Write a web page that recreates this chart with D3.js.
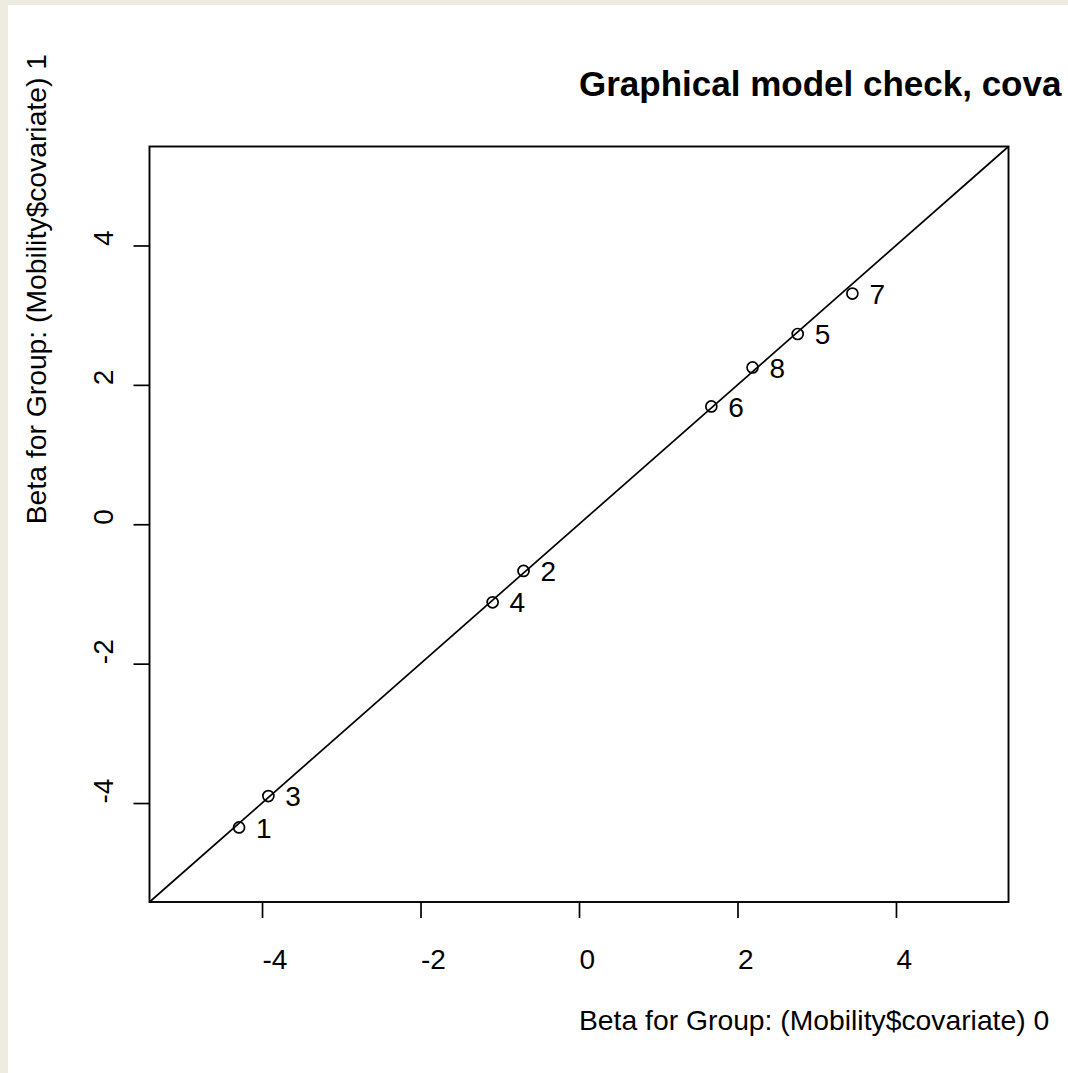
<!DOCTYPE html>
<html>
<head>
<meta charset="utf-8">
<script src="https://cdn.jsdelivr.net/npm/d3@7"></script>
<style>
  html, body { margin: 0; padding: 0; background: #eeebe1; }
  svg { display: block; }
  text { font-family: "Liberation Sans", Arial, sans-serif; fill: #000; }
</style>
</head>
<body>
<script>
// Group ids and their beta estimates under the two covariate levels
const groupIds = ["1", "2", "3", "4", "5", "6", "7", "8"];
const betaGroup0 = [-4.29, -0.70, -3.92, -1.09, 2.76, 1.67, 3.45, 2.19];
const betaGroup1 = [-4.35, -0.67, -3.90, -1.12, 2.73, 1.69, 3.31, 2.25];
const tickValues = [-4, -2, 0, 2, 4];
const tickLabels = ["-4", "-2", "0", "2", "4"];

const titleText = "Graphical model check, cova";
const xLabel = "Beta for Group: (Mobility$covariate) 0";
const yLabel = "Beta for Group: (Mobility$covariate) 1";

const W = 1068, H = 1073;
const box = { left: 149.5, right: 1008.5, top: 146.5, bottom: 902 };
const lim = [-5.42, 5.42];
const fontSize = 28;
const labelSize = 28.3;

const svg = d3.select("body").append("svg")
  .attr("width", W).attr("height", H);

// White device region, leaving the page colour visible at top/left
svg.append("rect").attr("x", 8).attr("y", 5)
  .attr("width", W - 8).attr("height", H - 5).attr("fill", "#fff");

const x = d3.scaleLinear().domain(lim).range([box.left, box.right]);
const y = d3.scaleLinear().domain(lim).range([box.bottom, box.top]);

const data = groupIds.map((id, i) => ({ id, b0: betaGroup0[i], b1: betaGroup1[i] }));
const fmt = d => tickLabels[tickValues.indexOf(d)];

// Identity line y = x
svg.append("line")
  .attr("x1", x(lim[0])).attr("y1", y(lim[0]))
  .attr("x2", x(lim[1])).attr("y2", y(lim[1]))
  .attr("stroke", "#000").attr("stroke-width", 1.7);

// Bottom axis
const xAxis = svg.append("g").attr("transform", `translate(0,${box.bottom})`)
  .call(d3.axisBottom(x).tickValues(tickValues).tickSize(16).tickFormat(fmt));
xAxis.select(".domain").remove();
xAxis.selectAll(".tick line").attr("stroke", "#000").attr("stroke-width", 1.7);
xAxis.selectAll(".tick text")
  .attr("font-size", fontSize).attr("font-family", "Liberation Sans, Arial, sans-serif")
  .attr("text-anchor", "start").attr("y", 57).attr("dy", "0.35em");

// Left axis, labels rotated to read upwards
const yAxis = svg.append("g").attr("transform", `translate(${box.left},0)`)
  .call(d3.axisLeft(y).tickValues(tickValues).tickSize(16).tickFormat(fmt));
yAxis.select(".domain").remove();
yAxis.selectAll(".tick line").attr("stroke", "#000").attr("stroke-width", 1.7);
yAxis.selectAll(".tick text")
  .attr("font-size", fontSize).attr("font-family", "Liberation Sans, Arial, sans-serif")
  .attr("text-anchor", "start").attr("x", null).attr("dy", null)
  .attr("transform", "translate(-46,0) rotate(-90) translate(0,9)");

// Plot frame
svg.append("rect")
  .attr("x", box.left).attr("y", box.top)
  .attr("width", box.right - box.left).attr("height", box.bottom - box.top)
  .attr("fill", "none").attr("stroke", "#000").attr("stroke-width", 1.9);

// Points and their group labels
svg.append("g").selectAll("circle").data(data).join("circle")
  .attr("cx", d => x(d.b0)).attr("cy", d => y(d.b1)).attr("r", 5.5)
  .attr("fill", "none").attr("stroke", "#000").attr("stroke-width", 1.7);

svg.append("g").selectAll("text").data(data).join("text")
  .attr("x", d => x(d.b0) + 17).attr("y", d => y(d.b1))
  .attr("dy", "0.36em").attr("font-size", fontSize).text(d => d.id);

// Titles
const cx = x(0), cy = y(0);
svg.append("text").attr("x", cx).attr("y", 96)
  .attr("font-size", 35).attr("font-weight", "bold").text(titleText);
svg.append("text").attr("x", cx).attr("y", 1030)
  .attr("font-size", labelSize).text(xLabel);
svg.append("text")
  .attr("transform", `translate(46,${cy}) rotate(-90)`)
  .attr("font-size", labelSize).text(yLabel);
</script>
</body>
</html>
